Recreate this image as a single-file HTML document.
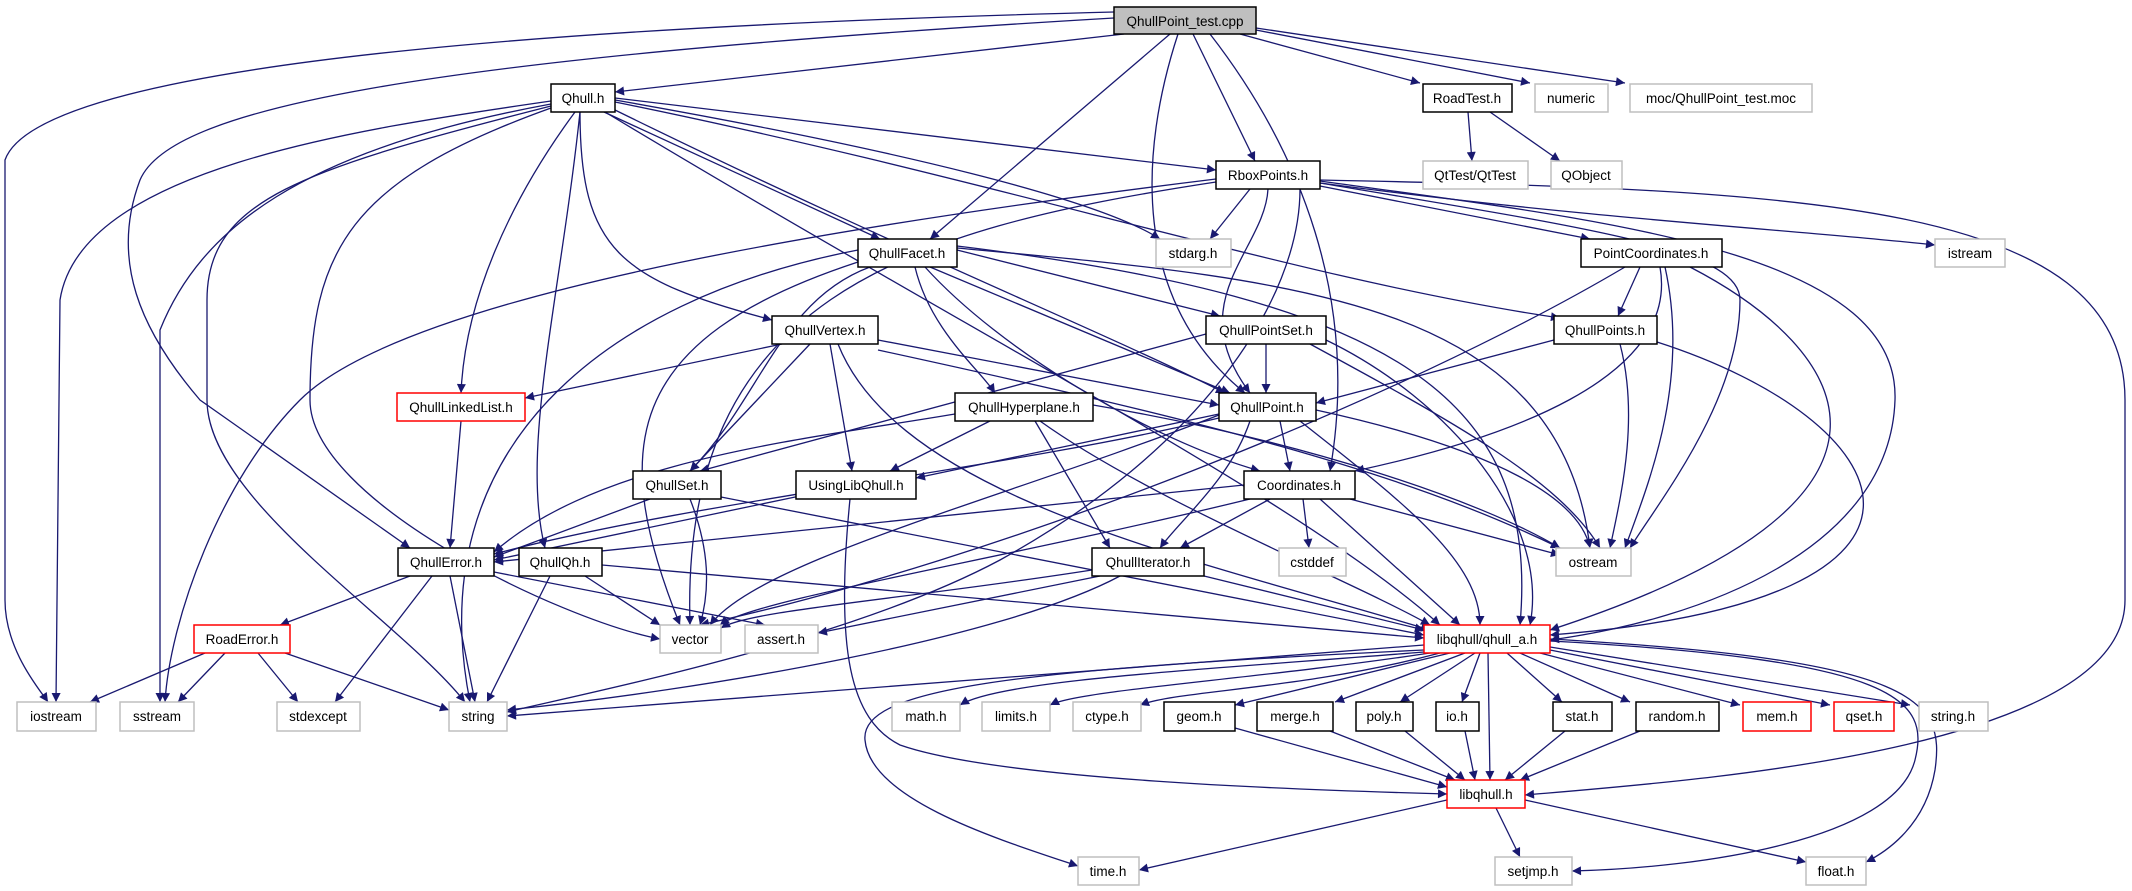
<!DOCTYPE html>
<html><head><meta charset="utf-8"><style>
html,body{margin:0;padding:0;background:#fff;}
svg{display:block;}
text{font-family:"Liberation Sans Narrow","Liberation Sans",sans-serif;font-size:13.5px;fill:#000;text-anchor:middle;}
.e{fill:none;stroke:#191970;stroke-width:1.3;marker-end:url(#a);}
.b{fill:#fff;stroke:#000;stroke-width:1.5;}
.g{fill:#fff;stroke:#bfbfbf;stroke-width:1.5;}
.r{fill:#fff;stroke:#ff0000;stroke-width:1.5;}
</style></head><body>
<svg width="2132" height="891" viewBox="0 0 2132 891" xmlns="http://www.w3.org/2000/svg">
<defs><marker id="a" markerUnits="userSpaceOnUse" viewBox="0 0 10 10" refX="10" refY="5" markerWidth="12" markerHeight="9" orient="auto"><path d="M0,0 L10,5 L0,10 z" fill="#191970"/></marker></defs>
<g>
<path class="e" d="M1114,12 C600,25 40,60 5,160 L5,600 C5,650 40,690 48,702"/>
<path class="e" d="M1114,18 C400,60 170,110 140,180 C110,260 140,330 200,400 L410,548"/>
<path class="e" d="M1124,34 L615,92"/>
<path class="e" d="M1170,34 L930,239"/>
<path class="e" d="M1178,34 C1140,150 1130,300 1245,393"/>
<path class="e" d="M1193,34 L1255,161"/>
<path class="e" d="M1210,34 C1300,150 1360,300 1330,471"/>
<path class="e" d="M1240,34 L1420,83"/>
<path class="e" d="M1256,30 L1530,83"/>
<path class="e" d="M1256,28 L1625,83"/>
<path class="e" d="M551,101 C350,130 80,170 60,300 L56,702"/>
<path class="e" d="M551,104 C300,150 200,230 160,330 L160,702"/>
<path class="e" d="M551,106 C300,170 207,200 207,300 L207,400 C207,500 400,620 465,702"/>
<path class="e" d="M551,108 C350,180 310,250 310,400 C310,500 560,620 660,639"/>
<path class="e" d="M575,112 C510,200 465,300 461,393"/>
<path class="e" d="M580,112 C560,300 520,450 545,548"/>
<path class="e" d="M580,112 C580,250 620,280 772,320"/>
<path class="e" d="M604,112 L880,239"/>
<path class="e" d="M615,110 C900,250 1100,330 1225,393"/>
<path class="e" d="M615,100 C900,150 1100,200 1160,239"/>
<path class="e" d="M615,98 L1216,170"/>
<path class="e" d="M615,102 C1000,180 1300,280 1560,318"/>
<path class="e" d="M605,112 C1000,350 1300,500 1440,625"/>
<path class="e" d="M1468,112 L1472,161"/>
<path class="e" d="M1490,112 L1560,161"/>
<path class="e" d="M1250,189 L1210,239"/>
<path class="e" d="M1216,179 C800,230 400,300 300,400 C220,480 170,620 165,702"/>
<path class="e" d="M1216,182 C900,230 680,300 690,625"/>
<path class="e" d="M1320,186 L1590,239"/>
<path class="e" d="M1320,183 C1600,220 1800,230 1935,245"/>
<path class="e" d="M1268,189 C1265,250 1180,300 1250,393"/>
<path class="e" d="M1320,183 C1600,230 1740,250 1740,300 C1740,400 1660,500 1630,548"/>
<path class="e" d="M1320,181 C1600,220 1900,250 1895,400 C1890,550 1700,620 1550,640"/>
<path class="e" d="M1320,180 C1800,190 2125,200 2125,400 L2125,600 C2125,750 1700,780 1525,795"/>
<path class="e" d="M1300,189 C1300,300 1200,450 1000,560 C850,640 600,690 507,712"/>
<path class="e" d="M1424,645 C1000,680 700,700 507,716"/>
<path class="e" d="M870,267 C780,300 760,400 690,471"/>
<path class="e" d="M858,262 C620,340 610,450 680,625"/>
<path class="e" d="M858,250 C600,300 420,450 470,702"/>
<path class="e" d="M915,267 C930,330 980,370 995,393"/>
<path class="e" d="M930,267 L1230,393"/>
<path class="e" d="M925,267 C1000,350 1150,440 1260,471"/>
<path class="e" d="M957,250 L1220,316"/>
<path class="e" d="M957,248 C1300,280 1560,300 1590,548"/>
<path class="e" d="M957,246 C1400,300 1540,400 1520,625"/>
<path class="e" d="M782,344 L525,398"/>
<path class="e" d="M810,344 L690,471"/>
<path class="e" d="M830,344 L852,471"/>
<path class="e" d="M878,340 L1219,405"/>
<path class="e" d="M838,344 C900,500 1200,560 1430,630"/>
<path class="e" d="M878,350 C1200,420 1400,470 1560,548"/>
<path class="e" d="M1640,267 L1618,316"/>
<path class="e" d="M1625,267 C1400,400 1000,560 700,625"/>
<path class="e" d="M1660,267 C1680,380 1500,440 1355,471"/>
<path class="e" d="M1665,267 C1690,380 1650,480 1625,548"/>
<path class="e" d="M1690,267 C1850,350 1950,500 1550,630"/>
<path class="e" d="M1266,344 L1266,393"/>
<path class="e" d="M1206,334 L700,471"/>
<path class="e" d="M1310,344 C1450,420 1560,480 1600,548"/>
<path class="e" d="M1326,340 C1450,400 1550,520 1530,625"/>
<path class="e" d="M1554,340 L1316,403"/>
<path class="e" d="M1620,344 C1640,420 1620,500 1610,548"/>
<path class="e" d="M1657,342 C1900,420 2000,600 1550,635"/>
<path class="e" d="M461,421 L450,548"/>
<path class="e" d="M990,421 L890,471"/>
<path class="e" d="M955,414 C800,440 600,460 494,552"/>
<path class="e" d="M1035,421 L1110,548"/>
<path class="e" d="M1040,421 C1150,500 1350,580 1430,625"/>
<path class="e" d="M1093,405 C1300,440 1480,500 1560,548"/>
<path class="e" d="M1280,421 L1290,471"/>
<path class="e" d="M1250,421 C1230,480 1180,520 1160,548"/>
<path class="e" d="M1219,414 L916,478"/>
<path class="e" d="M1219,418 C1000,470 700,500 494,554"/>
<path class="e" d="M1316,410 C1500,450 1580,500 1590,548"/>
<path class="e" d="M1300,421 C1400,500 1480,560 1480,625"/>
<path class="e" d="M1219,415 C1000,500 760,560 710,625"/>
<path class="e" d="M650,499 L494,557"/>
<path class="e" d="M690,499 C710,550 710,590 700,625"/>
<path class="e" d="M721,497 L1424,635"/>
<path class="e" d="M800,496 L494,560"/>
<path class="e" d="M850,499 C835,650 850,720 900,745 C1000,780 1300,790 1447,794"/>
<path class="e" d="M1244,485 L494,562"/>
<path class="e" d="M1270,499 L1180,548"/>
<path class="e" d="M1303,499 L1309,548"/>
<path class="e" d="M1350,499 L1560,555"/>
<path class="e" d="M1320,499 L1460,625"/>
<path class="e" d="M1250,499 C1000,560 750,600 720,625"/>
<path class="e" d="M410,576 L280,625"/>
<path class="e" d="M432,576 L335,702"/>
<path class="e" d="M450,576 L475,702"/>
<path class="e" d="M494,572 L765,625"/>
<path class="e" d="M585,576 L660,625"/>
<path class="e" d="M550,576 L487,702"/>
<path class="e" d="M602,565 L1424,638"/>
<path class="e" d="M1092,570 C900,600 750,610 721,628"/>
<path class="e" d="M1100,576 L818,633"/>
<path class="e" d="M1120,576 C1000,640 700,690 507,710"/>
<path class="e" d="M1204,576 L1424,630"/>
<path class="e" d="M205,653 L90,702"/>
<path class="e" d="M225,653 L178,702"/>
<path class="e" d="M258,653 L298,702"/>
<path class="e" d="M285,653 L449,710"/>
<path class="e" d="M1424,652 C1200,670 1000,680 960,705"/>
<path class="e" d="M1430,653 C1250,680 1080,690 1050,705"/>
<path class="e" d="M1440,653 C1300,690 1180,690 1140,705"/>
<path class="e" d="M1450,653 L1235,705"/>
<path class="e" d="M1465,653 L1335,702"/>
<path class="e" d="M1475,653 L1400,702"/>
<path class="e" d="M1480,653 L1462,702"/>
<path class="e" d="M1507,653 L1562,702"/>
<path class="e" d="M1520,653 L1630,702"/>
<path class="e" d="M1540,653 L1740,705"/>
<path class="e" d="M1550,650 L1830,705"/>
<path class="e" d="M1550,647 L1910,705"/>
<path class="e" d="M1488,653 L1490,780"/>
<path class="e" d="M1424,650 C1000,670 860,690 865,740 C870,800 1000,840 1078,866"/>
<path class="e" d="M1550,641 C1900,660 1930,700 1915,760 C1895,840 1700,868 1572,871"/>
<path class="e" d="M1550,639 C1920,660 1945,700 1935,770 C1925,830 1880,855 1866,862"/>
<path class="e" d="M1235,728 L1447,787"/>
<path class="e" d="M1330,731 L1455,780"/>
<path class="e" d="M1405,731 L1465,780"/>
<path class="e" d="M1465,731 L1475,780"/>
<path class="e" d="M1565,731 L1505,780"/>
<path class="e" d="M1640,731 L1520,780"/>
<path class="e" d="M1447,800 L1139,870"/>
<path class="e" d="M1496,808 L1520,857"/>
<path class="e" d="M1525,800 L1806,862"/>
</g>
<g>
<rect x="1114" y="7" width="142" height="27" fill="#bfbfbf" stroke="#000" stroke-width="1.5"/><text x="1185" y="26">QhullPoint_test.cpp</text>
<rect class="b" x="551" y="84" width="64" height="28"/><text x="583" y="103">Qhull.h</text>
<rect class="b" x="1423" y="84" width="89" height="28"/><text x="1467" y="103">RoadTest.h</text>
<rect class="g" x="1535" y="84" width="73" height="28"/><text x="1571" y="103">numeric</text>
<rect class="g" x="1630" y="84" width="182" height="28"/><text x="1721" y="103">moc/QhullPoint_test.moc</text>
<rect class="b" x="1216" y="161" width="104" height="28"/><text x="1268" y="180">RboxPoints.h</text>
<rect class="g" x="1423" y="161" width="105" height="28"/><text x="1475" y="180">QtTest/QtTest</text>
<rect class="g" x="1551" y="161" width="71" height="28"/><text x="1586" y="180">QObject</text>
<rect class="b" x="858" y="239" width="99" height="28"/><text x="907" y="258">QhullFacet.h</text>
<rect class="g" x="1156" y="239" width="75" height="28"/><text x="1193" y="258">stdarg.h</text>
<rect class="b" x="1581" y="239" width="141" height="28"/><text x="1651" y="258">PointCoordinates.h</text>
<rect class="g" x="1935" y="239" width="70" height="28"/><text x="1970" y="258">istream</text>
<rect class="b" x="772" y="316" width="106" height="28"/><text x="825" y="335">QhullVertex.h</text>
<rect class="b" x="1206" y="316" width="120" height="28"/><text x="1266" y="335">QhullPointSet.h</text>
<rect class="b" x="1554" y="316" width="103" height="28"/><text x="1605" y="335">QhullPoints.h</text>
<rect class="r" x="397" y="393" width="128" height="28"/><text x="461" y="412">QhullLinkedList.h</text>
<rect class="b" x="955" y="393" width="138" height="28"/><text x="1024" y="412">QhullHyperplane.h</text>
<rect class="b" x="1219" y="393" width="97" height="28"/><text x="1267" y="412">QhullPoint.h</text>
<rect class="b" x="633" y="471" width="88" height="28"/><text x="677" y="490">QhullSet.h</text>
<rect class="b" x="796" y="471" width="120" height="28"/><text x="856" y="490">UsingLibQhull.h</text>
<rect class="b" x="1244" y="471" width="111" height="28"/><text x="1299" y="490">Coordinates.h</text>
<rect class="b" x="398" y="548" width="96" height="28"/><text x="446" y="567">QhullError.h</text>
<rect class="b" x="519" y="548" width="83" height="28"/><text x="560" y="567">QhullQh.h</text>
<rect class="b" x="1092" y="548" width="112" height="28"/><text x="1148" y="567">QhullIterator.h</text>
<rect class="g" x="1279" y="548" width="67" height="28"/><text x="1312" y="567">cstddef</text>
<rect class="g" x="1556" y="548" width="75" height="28"/><text x="1593" y="567">ostream</text>
<rect class="r" x="194" y="625" width="96" height="28"/><text x="242" y="644">RoadError.h</text>
<rect class="g" x="660" y="625" width="61" height="28"/><text x="690" y="644">vector</text>
<rect class="g" x="745" y="625" width="73" height="28"/><text x="781" y="644">assert.h</text>
<rect class="r" x="1424" y="625" width="126" height="28"/><text x="1487" y="644">libqhull/qhull_a.h</text>
<rect class="g" x="17" y="702" width="79" height="29"/><text x="56" y="721">iostream</text>
<rect class="g" x="120" y="702" width="74" height="29"/><text x="157" y="721">sstream</text>
<rect class="g" x="277" y="702" width="83" height="29"/><text x="318" y="721">stdexcept</text>
<rect class="g" x="449" y="702" width="58" height="29"/><text x="478" y="721">string</text>
<rect class="g" x="892" y="702" width="68" height="29"/><text x="926" y="721">math.h</text>
<rect class="g" x="982" y="702" width="68" height="29"/><text x="1016" y="721">limits.h</text>
<rect class="g" x="1073" y="702" width="68" height="29"/><text x="1107" y="721">ctype.h</text>
<rect class="b" x="1164" y="702" width="71" height="29"/><text x="1199" y="721">geom.h</text>
<rect class="b" x="1257" y="702" width="76" height="29"/><text x="1295" y="721">merge.h</text>
<rect class="b" x="1356" y="702" width="57" height="29"/><text x="1384" y="721">poly.h</text>
<rect class="b" x="1436" y="702" width="43" height="29"/><text x="1457" y="721">io.h</text>
<rect class="b" x="1553" y="702" width="59" height="29"/><text x="1582" y="721">stat.h</text>
<rect class="b" x="1636" y="702" width="83" height="29"/><text x="1677" y="721">random.h</text>
<rect class="r" x="1743" y="702" width="68" height="29"/><text x="1777" y="721">mem.h</text>
<rect class="r" x="1834" y="702" width="60" height="29"/><text x="1864" y="721">qset.h</text>
<rect class="g" x="1919" y="702" width="69" height="29"/><text x="1953" y="721">string.h</text>
<rect class="r" x="1447" y="780" width="78" height="28"/><text x="1486" y="799">libqhull.h</text>
<rect class="g" x="1078" y="857" width="61" height="28"/><text x="1108" y="876">time.h</text>
<rect class="g" x="1495" y="857" width="77" height="28"/><text x="1533" y="876">setjmp.h</text>
<rect class="g" x="1806" y="857" width="60" height="28"/><text x="1836" y="876">float.h</text>
</g>
</svg>
</body></html>
